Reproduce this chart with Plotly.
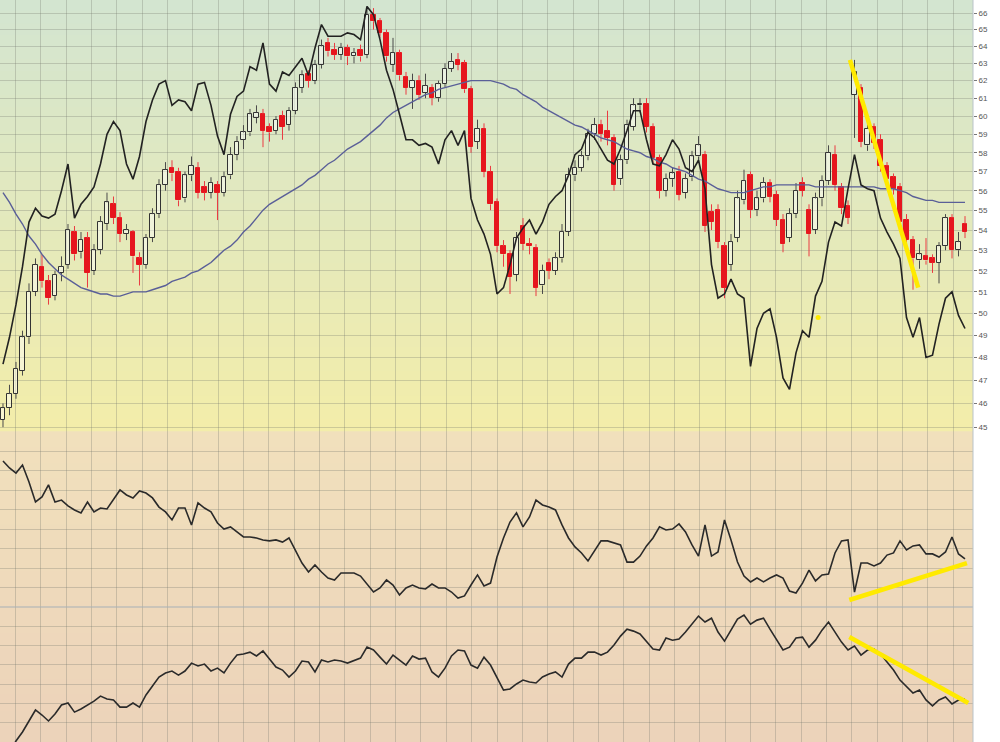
import numpy as np
import plotly.graph_objects as go

# daily price bars (bar index 0..148)
OPEN = [45.3, 45.8, 46.4, 47.4, 48.9, 51.0, 52.2, 51.5, 50.8, 51.9,
        52.3, 53.9, 52.9, 53.6, 52.0, 53.0, 54.3, 55.3, 54.6, 53.8,
        53.9, 52.6, 52.3, 53.6, 54.8, 56.3, 57.2, 57.0, 55.6, 56.8,
        57.2, 56.2, 55.9, 56.3, 55.9, 56.8, 57.9, 58.7, 59.1, 59.9,
        60.1, 59.4, 59.2, 60.0, 59.5, 60.3, 61.6, 62.4, 62.0, 62.9,
        64.2, 63.8, 63.5, 63.9, 63.4, 63.8, 63.5, 65.9, 65.5, 64.8,
        62.9, 63.6, 62.2, 61.6, 62.0, 61.3, 61.6, 61.0, 61.8, 62.7,
        63.2, 63.0, 61.5, 58.6, 59.3, 57.0, 55.4, 53.2, 52.8, 51.8,
        54.2, 53.3, 53.1, 51.3, 52.4, 52.0, 52.6, 53.9, 56.8, 57.2,
        57.8, 59.0, 59.5, 59.2, 58.8, 56.6, 57.6, 59.4, 60.6, 60.7,
        59.4, 57.7, 56.0, 56.6, 57.0, 55.9, 56.7, 57.8, 57.9, 54.9,
        55.0, 53.2, 52.3, 53.6, 55.5, 56.8, 55.0, 55.6, 56.4, 55.8,
        54.5, 53.6, 54.8, 56.4, 55.0, 54.0, 55.6, 56.5, 57.9, 56.2,
        55.2, 61.2, 61.6, 58.4, 59.4, 58.7, 57.3, 56.7, 56.2, 54.5,
        53.5, 52.5, 52.7, 52.6, 52.4, 53.2, 54.6, 53.0, 54.3]
HIGH = [46.0, 46.8, 47.8, 49.2, 51.4, 52.6, 52.8, 51.8, 52.0, 52.7,
        54.3, 54.2, 53.9, 53.9, 53.3, 54.7, 55.9, 55.7, 54.9, 54.3,
        54.0, 52.9, 53.8, 55.1, 56.6, 57.5, 57.6, 57.2, 57.0, 57.8,
        57.5, 56.5, 56.7, 56.5, 57.0, 58.3, 58.9, 59.5, 60.4, 60.6,
        60.4, 59.6, 60.0, 60.3, 60.5, 61.9, 62.6, 62.6, 63.2, 64.4,
        64.5, 64.2, 64.2, 64.1, 63.9, 64.1, 66.4, 66.3, 65.7, 65.0,
        64.5, 63.8, 62.5, 62.4, 62.3, 62.4, 61.8, 62.0, 63.0, 63.6,
        63.6, 63.2, 61.7, 59.8, 59.6, 57.3, 55.6, 53.5, 53.0, 53.9,
        54.6, 53.6, 53.3, 52.3, 52.6, 52.9, 54.3, 57.2, 57.6, 58.1,
        59.3, 59.9, 59.8, 60.3, 59.0, 57.9, 59.8, 61.0, 61.0, 61.0,
        59.6, 57.9, 56.9, 57.2, 57.3, 56.9, 58.1, 58.9, 58.1, 55.3,
        55.3, 53.4, 53.8, 56.0, 57.1, 57.0, 56.0, 56.7, 56.6, 56.0,
        54.8, 55.1, 56.4, 56.7, 55.3, 55.9, 56.8, 58.4, 58.4, 56.4,
        55.5, 63.2, 61.8, 59.8, 59.6, 59.0, 57.5, 56.9, 56.4, 54.8,
        53.7, 53.3, 53.6, 52.8, 53.4, 54.8, 54.8, 53.9, 54.7]
LOW = [45.0, 45.5, 46.2, 47.2, 48.6, 50.8, 51.2, 50.4, 50.6, 51.5,
       52.1, 52.5, 52.6, 51.2, 51.8, 52.8, 54.0, 54.3, 53.4, 53.5,
       51.9, 51.3, 52.1, 53.4, 54.6, 56.0, 56.5, 55.2, 55.4, 56.5,
       55.6, 55.5, 55.6, 54.5, 55.7, 56.6, 57.6, 58.2, 58.9, 59.6,
       58.3, 58.6, 59.0, 58.7, 59.2, 60.1, 61.3, 61.6, 61.8, 62.7,
       63.4, 63.2, 63.2, 62.9, 63.0, 63.1, 63.3, 65.0, 64.5, 63.1,
       62.5, 62.0, 61.2, 60.4, 60.9, 61.0, 60.6, 60.8, 61.6, 62.5,
       62.6, 61.3, 58.0, 58.2, 56.7, 55.0, 52.9, 52.2, 50.9, 51.5,
       53.0, 52.8, 50.8, 50.9, 51.6, 51.8, 52.4, 53.7, 56.5, 57.0,
       57.6, 58.7, 58.6, 58.4, 56.0, 56.3, 57.4, 59.2, 60.2, 59.1,
       57.4, 55.6, 55.7, 56.2, 55.5, 55.6, 56.5, 57.6, 53.9, 54.0,
       53.1, 50.7, 52.0, 53.4, 55.3, 54.6, 54.7, 55.4, 55.4, 54.2,
       52.9, 53.4, 54.6, 55.7, 52.7, 53.8, 55.2, 56.3, 56.0, 54.8,
       54.3, 58.8, 58.3, 58.1, 58.2, 57.0, 56.2, 55.8, 54.1, 53.1,
       51.1, 52.1, 52.3, 51.9, 51.4, 53.0, 52.6, 52.7, 53.6]
CLOSE = [45.8, 46.4, 47.5, 48.9, 51.0, 52.3, 51.5, 50.7, 51.8, 52.2,
         54.0, 52.8, 53.5, 51.9, 53.0, 54.4, 55.4, 54.6, 53.8, 54.0,
         52.7, 52.3, 53.6, 54.8, 56.3, 57.1, 56.9, 55.5, 56.8, 57.3,
         55.9, 55.9, 56.4, 55.9, 56.7, 57.9, 58.6, 59.1, 60.1, 60.2,
         59.2, 59.1, 59.8, 59.4, 60.3, 61.6, 62.3, 62.0, 62.9, 64.0,
         63.7, 63.5, 63.9, 63.4, 63.6, 63.4, 65.9, 65.5, 64.8, 63.4,
         63.6, 62.3, 61.6, 62.0, 61.2, 61.7, 61.0, 61.8, 62.7, 63.1,
         62.9, 61.5, 58.3, 59.3, 57.0, 55.3, 53.2, 52.8, 51.7, 53.6,
         53.3, 53.2, 51.2, 52.0, 52.0, 52.6, 53.9, 56.8, 57.2, 57.8,
         59.0, 59.5, 59.0, 58.8, 56.3, 57.6, 59.5, 60.6, 60.7, 59.4,
         57.7, 56.0, 56.6, 56.9, 55.8, 56.6, 57.8, 58.4, 54.2, 54.4,
         53.4, 51.2, 53.4, 55.6, 56.5, 55.0, 55.6, 56.4, 55.7, 54.5,
         53.3, 54.8, 56.0, 56.0, 53.8, 55.6, 56.5, 58.0, 56.3, 55.1,
         54.6, 62.5, 58.6, 59.3, 58.5, 57.3, 56.6, 56.1, 54.4, 53.5,
         52.6, 52.8, 52.5, 52.4, 53.2, 54.6, 53.0, 53.4, 53.9]

# comparison line drawn on the price scale
COMPARE = [47.7, 48.9, 50.4, 52.2, 54.4, 55.1, 54.7, 54.6, 54.8, 56.0,
           57.4, 54.6, 55.3, 55.7, 56.2, 57.4, 59.0, 59.7, 59.2, 57.4,
           56.6, 57.8, 59.7, 60.9, 61.8, 62.0, 60.6, 60.9, 60.8, 60.3,
           61.8, 61.9, 60.6, 58.9, 57.9, 60.1, 61.1, 61.4, 62.8, 62.6,
           64.2, 61.8, 61.4, 62.5, 62.3, 62.8, 63.3, 62.3, 63.9, 65.3,
           64.6, 64.6, 64.6, 64.8, 64.7, 64.4, 66.4, 65.9, 64.4, 62.6,
           61.5, 60.1, 58.7, 58.7, 58.4, 58.5, 58.3, 57.4, 58.7, 59.2,
           58.4, 59.2, 55.6, 54.5, 53.8, 52.8, 50.9, 51.2, 52.3, 53.6,
           54.1, 54.5, 53.8, 54.4, 55.3, 55.7, 56.0, 56.8, 57.9, 58.2,
           59.1, 58.8, 58.2, 57.6, 57.4, 58.2, 59.2, 60.3, 60.3, 58.7,
           57.4, 57.3, 57.9, 58.7, 58.2, 57.2, 57.0, 57.6, 56.1, 52.3,
           50.7, 50.9, 51.6, 50.9, 50.7, 47.6, 49.3, 50.0, 50.2, 48.9,
           47.1, 46.6, 48.2, 49.2, 48.9, 50.8, 51.5, 53.4, 54.4, 54.2,
           56.1, 57.9, 56.3, 56.1, 56.0, 54.6, 53.9, 53.3, 52.6, 49.8,
           48.9, 49.8, 48.0, 48.1, 49.5, 50.7, 51.0, 49.9, 49.3]

# moving average line
MA = [55.9, 55.4, 54.8, 54.3, 53.7, 53.3, 52.8, 52.4, 52.1, 51.8,
      51.6, 51.4, 51.2, 51.1, 51.0, 50.9, 50.9, 50.8, 50.8, 50.9,
      51.0, 51.0, 51.0, 51.1, 51.2, 51.3, 51.5, 51.6, 51.7, 51.9,
      52.0, 52.2, 52.4, 52.7, 53.0, 53.2, 53.5, 53.9, 54.2, 54.6,
      55.0, 55.3, 55.5, 55.7, 55.9, 56.1, 56.3, 56.6, 56.8, 57.1,
      57.4, 57.6, 57.9, 58.2, 58.4, 58.6, 58.9, 59.2, 59.5, 59.9,
      60.2, 60.4, 60.6, 60.8, 61.0, 61.2, 61.3, 61.5, 61.6, 61.7,
      61.8, 61.9, 62.0, 62.0, 62.0, 62.0, 61.9, 61.8, 61.6, 61.5,
      61.2, 61.0, 60.8, 60.5, 60.3, 60.1, 59.9, 59.7, 59.5, 59.4,
      59.2, 59.0, 58.8, 58.7, 58.6, 58.4, 58.2, 58.1, 58.0, 57.8,
      57.7, 57.5, 57.4, 57.2, 57.1, 57.0, 56.8, 56.6, 56.5, 56.3,
      56.1, 56.0, 55.9, 55.9, 55.9, 56.0, 56.1, 56.2, 56.2, 56.3,
      56.3, 56.3, 56.3, 56.3, 56.3, 56.2, 56.2, 56.2, 56.2, 56.2,
      56.2, 56.2, 56.2, 56.2, 56.2, 56.1, 56.1, 56.1, 56.0, 55.9,
      55.7, 55.6, 55.5, 55.5, 55.4, 55.4, 55.4, 55.4, 55.4]

# indicator panels (no scale shown on the chart)
OSC_UPPER = [7.51, 7.15, 6.89, 7.30, 6.43, 5.40, 5.66, 6.28, 5.40, 5.50,
             5.20, 4.99, 4.84, 5.40, 4.89, 5.09, 5.04, 5.50, 6.02, 5.76,
             5.61, 5.97, 5.86, 5.61, 5.14, 4.89, 4.48, 5.09, 5.09, 4.22,
             5.35, 5.09, 4.89, 4.32, 4.01, 4.12, 3.86, 3.60, 3.60, 3.55,
             3.45, 3.40, 3.45, 3.34, 3.55, 2.88, 2.26, 1.80, 2.16, 1.80,
             1.49, 1.39, 1.75, 1.75, 1.75, 1.59, 1.18, 0.77, 0.98, 1.39,
             1.13, 0.62, 0.98, 1.13, 0.98, 0.93, 1.18, 0.98, 0.98, 0.77,
             0.46, 0.57, 1.13, 1.65, 1.08, 1.23, 2.57, 3.55, 4.37, 4.84,
             4.12, 4.63, 5.50, 5.25, 5.14, 4.99, 4.22, 3.55, 3.09, 2.78,
             2.37, 2.88, 3.40, 3.40, 3.29, 3.19, 2.31, 2.31, 2.62, 3.14,
             3.55, 4.12, 3.96, 4.01, 4.27, 3.86, 3.19, 2.62, 4.22, 2.62,
             2.83, 4.48, 3.45, 2.31, 1.59, 1.29, 1.49, 1.29, 1.49, 1.65,
             1.49, 0.82, 0.72, 1.23, 1.90, 1.34, 1.65, 1.70, 2.78, 3.40,
             3.45, 0.77, 2.26, 2.26, 2.11, 2.26, 2.67, 2.78, 3.40, 2.93,
             3.14, 3.19, 2.73, 2.73, 2.57, 2.83, 3.60, 2.73, 2.47]
OSC_LOWER = [-1.19, -0.52, 0.05, 0.52, 1.09, 1.66, 1.40, 1.09, 1.45, 1.92,
             2.02, 1.55, 1.71, 1.92, 2.12, 2.38, 2.23, 2.18, 1.81, 1.81,
             2.02, 1.81, 2.44, 2.90, 3.37, 3.58, 3.68, 3.47, 3.68, 4.09,
             3.94, 4.04, 3.68, 3.83, 3.58, 4.09, 4.51, 4.56, 4.66, 4.46,
             4.72, 4.30, 3.89, 3.73, 3.37, 3.68, 4.20, 4.15, 3.63, 4.25,
             4.15, 4.25, 4.20, 4.09, 4.20, 4.35, 4.92, 4.77, 4.40, 4.04,
             4.51, 4.25, 3.99, 4.46, 4.30, 4.35, 3.63, 3.37, 3.83, 4.46,
             4.77, 4.72, 3.99, 3.83, 4.40, 3.99, 3.32, 2.69, 2.75, 3.01,
             3.21, 3.11, 3.06, 3.37, 3.52, 3.63, 3.37, 4.04, 4.35, 4.35,
             4.66, 4.66, 4.51, 4.66, 5.03, 5.49, 5.85, 5.75, 5.60, 5.18,
             4.82, 4.77, 5.39, 5.28, 5.34, 5.70, 6.11, 6.53, 6.22, 6.42,
             5.70, 5.23, 5.80, 6.37, 6.58, 6.11, 6.32, 6.42, 5.85, 5.28,
             4.77, 4.92, 5.39, 5.44, 4.92, 5.28, 5.80, 6.22, 5.70, 5.18,
             4.77, 4.97, 4.51, 4.77, 4.82, 4.56, 4.15, 3.73, 3.21, 2.90,
             2.54, 2.69, 2.18, 1.87, 2.18, 2.33, 1.97, 2.18, 2.23]

PRICE_TICKS = list(range(45, 67))

# yellow hand-drawn trend lines (bar index, value)
TREND_PRICE_X = [130.3, 140.8]
TREND_PRICE_Y = [63.2, 51.2]
TREND_UP_X = [130.2, 148.3]
TREND_UP_Y = [0.36, 2.26]
TREND_LO_X = [130.2, 148.5]
TREND_LO_Y = [5.44, 2.02]
DOT_X = [125.4]
DOT_Y = [49.8]

bars = list(range(len(CLOSE)))

TOP = 1 - 432 / 742
MID = 1 - 607 / 742
GRID = "rgba(115,120,110,0.30)"
RED = "#e6161e"
DARK = "#333333"

fig = go.Figure()

# candles: wicks drawn outside the body, bodies as bars
def wick_segments(idx):
    xs, ys = [], []
    for i in idx:
        lo, hi = min(OPEN[i], CLOSE[i]), max(OPEN[i], CLOSE[i])
        xs += [i, i, None, i, i, None]
        ys += [LOW[i], lo, None, hi, HIGH[i], None]
    return xs, ys

up = [i for i in bars if CLOSE[i] >= OPEN[i]]
down = [i for i in bars if CLOSE[i] < OPEN[i]]

for idx, col in ((up, "#4a4a4a"), (down, "#ea3b42")):
    wx, wy = wick_segments(idx)
    fig.add_trace(go.Scatter(x=wx, y=wy, mode="lines", line=dict(color=col, width=1),
                             showlegend=False, hoverinfo="skip", xaxis="x", yaxis="y"))

for idx, fill, edge in ((up, "rgba(255,255,255,0.45)", DARK), (down, RED, RED)):
    fig.add_trace(go.Bar(
        x=idx,
        base=[min(OPEN[i], CLOSE[i]) for i in idx],
        y=[max(abs(CLOSE[i] - OPEN[i]), 0.06) for i in idx],
        width=0.72, marker=dict(color=fill, line=dict(color=edge, width=1)),
        showlegend=False, xaxis="x", yaxis="y"))

fig.add_trace(go.Scatter(x=bars, y=MA, mode="lines", line=dict(color="#5a5f98", width=1.4),
                         showlegend=False, xaxis="x", yaxis="y"))
fig.add_trace(go.Scatter(x=bars, y=COMPARE, mode="lines", line=dict(color="#222222", width=1.6),
                         showlegend=False, xaxis="x", yaxis="y"))
fig.add_trace(go.Scatter(x=TREND_PRICE_X, y=TREND_PRICE_Y, mode="lines",
                         line=dict(color="#ffea00", width=4.5), showlegend=False, xaxis="x", yaxis="y"))
fig.add_trace(go.Scatter(x=DOT_X, y=DOT_Y, mode="markers", marker=dict(color="#ffea00", size=5),
                         showlegend=False, xaxis="x", yaxis="y"))

fig.add_trace(go.Scatter(x=bars, y=OSC_UPPER, mode="lines", line=dict(color="#2a2a2a", width=1.6),
                         showlegend=False, xaxis="x2", yaxis="y2"))
fig.add_trace(go.Scatter(x=TREND_UP_X, y=TREND_UP_Y, mode="lines",
                         line=dict(color="#ffea00", width=4.5), showlegend=False, xaxis="x2", yaxis="y2"))
fig.add_trace(go.Scatter(x=bars, y=OSC_LOWER, mode="lines", line=dict(color="#2a2a2a", width=1.6),
                         showlegend=False, xaxis="x3", yaxis="y3"))
fig.add_trace(go.Scatter(x=TREND_LO_X, y=TREND_LO_Y, mode="lines",
                         line=dict(color="#ffea00", width=4.5), showlegend=False, xaxis="x3", yaxis="y3"))

# background gradients as thin stripes
def blend(c1, c2, t):
    return "rgb(%d,%d,%d)" % tuple(round(a + (b - a) * t) for a, b in zip(c1, c2))

shapes = []
n = 36
for k in range(n):
    y1 = 1 - k * (1 - TOP) / n
    y0 = 1 - (k + 1) * (1 - TOP) / n
    shapes.append(dict(type="rect", xref="paper", yref="paper", x0=0, x1=1, y0=y0, y1=y1 + 0.001,
                       fillcolor=blend((211, 229, 208), (243, 237, 170), k / (n - 1)),
                       line=dict(width=0), layer="below"))
m = 20
for k in range(m):
    y1 = TOP - k * TOP / m
    y0 = TOP - (k + 1) * TOP / m
    shapes.append(dict(type="rect", xref="paper", yref="paper", x0=0, x1=1, y0=y0, y1=y1 + 0.001,
                       fillcolor=blend((241, 224, 188), (236, 211, 186), k / (m - 1)),
                       line=dict(width=0), layer="below"))
shapes.append(dict(type="line", xref="paper", yref="paper", x0=0, x1=1, y0=MID, y1=MID,
                   line=dict(color="#a7b0b6", width=1)))
shapes.append(dict(type="line", xref="paper", yref="paper", x0=1, x1=1, y0=0, y1=1,
                   line=dict(color="#b9c3c9", width=1)))

xcommon = dict(showticklabels=False, showgrid=True, gridcolor=GRID, gridwidth=1,
               tick0=1.9, dtick=3.9, zeroline=False, showline=False, ticks="")

fig.update_layout(
    width=1000, height=742,
    margin=dict(l=0, r=27, t=0, b=0),
    paper_bgcolor="white", plot_bgcolor="rgba(0,0,0,0)",
    barmode="overlay", bargap=0,
    shapes=shapes,
    xaxis=dict(domain=[0, 1], range=[-0.46, 149.23], anchor="y", **xcommon),
    xaxis2=dict(domain=[0, 1], matches="x", anchor="y2", **xcommon),
    xaxis3=dict(domain=[0, 1], matches="x", anchor="y3", **xcommon),
    yaxis=dict(domain=[TOP, 1], type="log", range=[np.log10(44.8), np.log10(66.8)],
               side="right", anchor="x", tickvals=PRICE_TICKS, ticktext=[str(t) for t in PRICE_TICKS],
               ticks="outside", ticklen=3, tickcolor="#777777",
               tickfont=dict(family="Liberation Sans, Arial", size=8, color="#555555"),
               showgrid=True, gridcolor=GRID, zeroline=False, showline=False),
    yaxis2=dict(domain=[MID, TOP], range=[0, 9], tick0=0, dtick=1, anchor="x2",
                showticklabels=False, showgrid=True, gridcolor=GRID, zeroline=False),
    yaxis3=dict(domain=[0, MID], range=[0, 7], tick0=0, dtick=1, anchor="x3",
                showticklabels=False, showgrid=True, gridcolor=GRID, zeroline=False),
)

# the page body has a default 8px margin; remove it so the chart sits at the window corner
fig.write_html("out.html", config={"displayModeBar": False},
               post_script="document.body.style.margin='0';")
